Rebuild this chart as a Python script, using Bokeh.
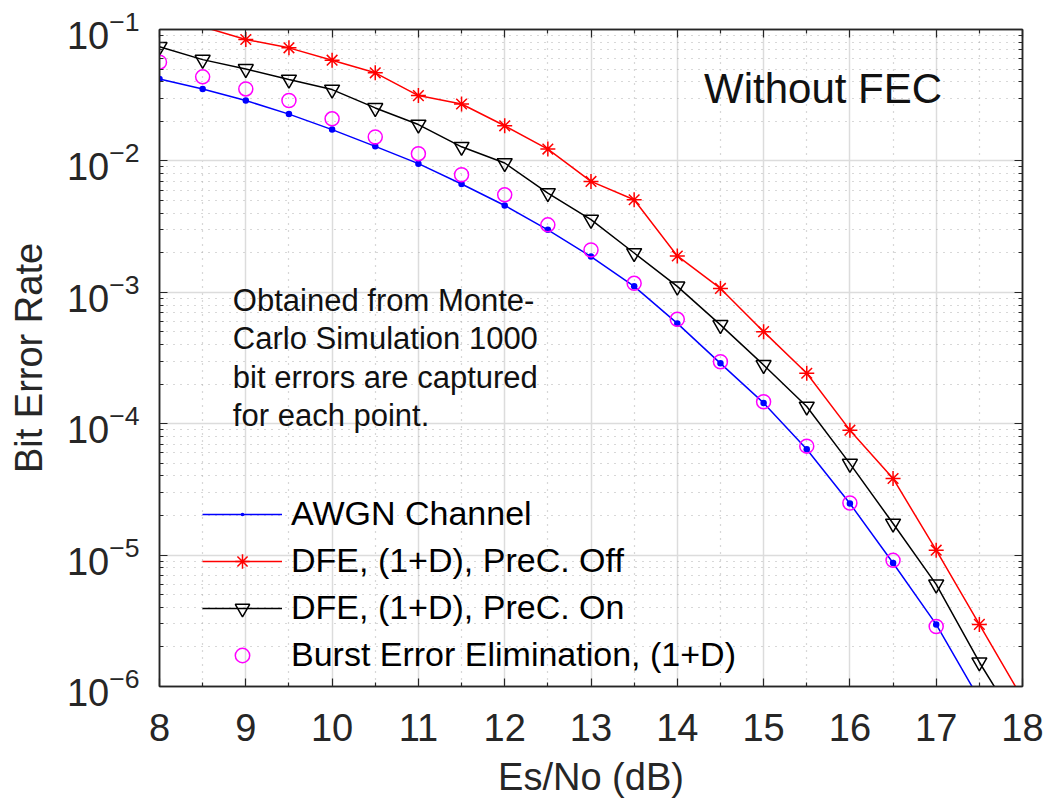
from bokeh.plotting import figure
from bokeh.models import (FixedTicker, LogAxis, LinearAxis, Legend, LegendItem,
                          ColumnDataSource)
from bokeh.core.properties import value
from bokeh.embed import file_html
from bokeh.resources import INLINE

# Es/No sweep (dB)
es_no = [8.0, 8.5, 9.0, 9.5, 10.0, 10.5, 11.0, 11.5, 12.0, 12.5, 13.0,
         13.5, 14.0, 14.5, 15.0, 15.5, 16.0, 16.5, 17.0, 17.5, 18.0]

# Bit error rate per scheme
ber_awgn = [0.042, 0.0353, 0.0288, 0.0227, 0.0173, 0.0129, 0.00953, 0.00667,
            0.00458, 0.00299, 0.00187, 0.00111, 5.8e-4, 2.88e-4, 1.44e-4,
            6.4e-5, 2.47e-5, 8.7e-6, 2.97e-6, 8.0e-7]
ber_dfe_off = [0.13, 0.105, 0.0839, 0.0725, 0.0584, 0.0468, 0.0314, 0.0271,
               0.0185, 0.0123, 0.00698, 0.00506, 0.00189, 0.00107, 5.02e-4,
               2.42e-4, 8.93e-5, 3.83e-5, 1.09e-5, 2.97e-6, 8.1e-7]
ber_dfe_on = [0.0738, 0.059, 0.0501, 0.0416, 0.0349, 0.0253, 0.0189, 0.0128,
              0.00964, 0.00569, 0.00357, 0.00199, 0.00111, 5.65e-4, 2.80e-4,
              1.35e-4, 4.97e-5, 1.74e-5, 5.98e-6, 1.53e-6, 4.5e-7]
ber_burst = [0.0564, 0.0436, 0.0353, 0.0288, 0.0209, 0.0152, 0.01135, 0.00785,
             0.00552, 0.00326, 0.00210, 0.00117, 6.23e-4, 2.96e-4, 1.47e-4,
             6.75e-5, 2.49e-5, 9.12e-6, 2.86e-6]

series_names = ["AWGN Channel", "DFE, (1+D), PreC. Off",
                "DFE, (1+D), PreC. On", "Burst Error Elimination, (1+D)"]

x_ticks = [8, 9, 10, 11, 12, 13, 14, 15, 16, 17, 18]
x_minor = [8.5, 9.5, 10.5, 11.5, 12.5, 13.5, 14.5, 15.5, 16.5, 17.5]
y_ticks = [1e-6, 1e-5, 1e-4, 1e-3, 1e-2, 1e-1]
y_minor = [k * d for d in y_ticks[:-1] for k in range(2, 10)]

note_lines = ["Obtained from Monte-", "Carlo Simulation 1000",
              "bit errors are captured", "for each point."]
note_x = [8.85] * 4
note_y = [8.67e-4, 4.42e-4, 2.25e-4, 1.15e-4]

Y_MIN, Y_MAX = 1e-6, 1e-1
FONT = "Liberation Sans"
AX = "#262626"

p = figure(width=1048, height=800, x_range=(8, 18), y_range=(Y_MIN, Y_MAX),
           y_axis_type="log", output_backend="svg", toolbar_location=None,
           min_border_left=159, min_border_right=26, min_border_top=29,
           min_border_bottom=114, background_fill_color="white",
           border_fill_color="white")
p.outline_line_color = AX
p.outline_line_width = 1.5

xticker = FixedTicker(ticks=x_ticks, minor_ticks=x_minor)
yticker = FixedTicker(ticks=y_ticks, minor_ticks=y_minor)


def style_axis(ax, show_labels):
    ax.axis_line_color = AX
    ax.axis_line_width = 1.5
    ax.major_tick_line_color = AX
    ax.minor_tick_line_color = AX
    ax.major_tick_line_width = 1.2
    ax.minor_tick_line_width = 1.2
    ax.major_tick_in = 8
    ax.major_tick_out = 0
    ax.minor_tick_in = 4
    ax.minor_tick_out = 0
    ax.major_label_text_font = FONT
    ax.axis_label_text_font = FONT
    ax.axis_label_text_color = AX
    ax.axis_label_text_font_style = "normal"
    if show_labels:
        ax.major_label_text_color = AX
        ax.major_label_text_font_size = "38px"
        ax.axis_label_text_font_size = "38px"
    else:
        # mirrored box axis: ticks only, labels kept tiny and unpainted
        ax.major_label_text_color = None
        ax.major_label_text_font_size = "1px"
        ax.major_label_standoff = 0


xa = p.xaxis[0]
xa.ticker = xticker
xa.axis_label = "Es/No (dB)"
style_axis(xa, True)
xa.major_label_standoff = 27
xa.axis_label_standoff = 12

ya = p.yaxis[0]
ya.ticker = yticker
ya.axis_label = "Bit Error Rate"
style_axis(ya, True)
ya.major_label_standoff = 20
ya.axis_label_standoff = 14

top_axis = LinearAxis(ticker=xticker)
style_axis(top_axis, False)
p.add_layout(top_axis, "above")
right_axis = LogAxis(ticker=yticker)
style_axis(right_axis, False)
p.add_layout(right_axis, "right")

for g in (p.xgrid[0], p.ygrid[0]):
    g.grid_line_color = "#dcdcdc"
    g.grid_line_width = 1.5
    g.minor_grid_line_color = "#b0b0b0"
    g.minor_grid_line_width = 1.2
    g.minor_grid_line_dash = "1 6"


def in_view(xs, ys):
    """Markers are only drawn for samples inside the axis limits."""
    pts = [(x, y) for x, y in zip(xs, ys) if Y_MIN <= y <= Y_MAX]
    return dict(x=[a for a, _ in pts], y=[b for _, b in pts])


src_awgn = ColumnDataSource(dict(x=es_no[:len(ber_awgn)], y=ber_awgn))
src_off = ColumnDataSource(dict(x=es_no[:len(ber_dfe_off)], y=ber_dfe_off))
src_on = ColumnDataSource(dict(x=es_no[:len(ber_dfe_on)], y=ber_dfe_on))

l_awgn = p.line("x", "y", source=src_awgn, line_color="#0000ff", line_width=1.5)
m_awgn = p.scatter("x", "y", source=ColumnDataSource(in_view(es_no, ber_awgn)),
                   marker="dot", size=26, line_color="#0000ff")

l_off = p.line("x", "y", source=src_off, line_color="#ff0000", line_width=1.5)
m_off = p.scatter("x", "y", source=ColumnDataSource(in_view(es_no, ber_dfe_off)),
                  marker="asterisk", size=15, line_color="#ff0000",
                  line_width=1.5)

l_on = p.line("x", "y", source=src_on, line_color="#000000", line_width=1.5)
m_on = p.scatter("x", "y", source=ColumnDataSource(in_view(es_no, ber_dfe_on)),
                 marker="inverted_triangle", size=15, fill_color=None,
                 line_color="#000000", line_width=1.5)

m_burst = p.scatter("x", "y", source=ColumnDataSource(in_view(es_no, ber_burst)),
                    marker="circle", size=14, fill_color=None,
                    line_color="#ff00ff", line_width=1.5)

legend = Legend(items=[
    LegendItem(label=series_names[0], renderers=[l_awgn, m_awgn]),
    LegendItem(label=series_names[1], renderers=[l_off, m_off]),
    LegendItem(label=series_names[2], renderers=[l_on, m_on]),
    LegendItem(label=series_names[3], renderers=[m_burst]),
], location=(43, 12))
legend.background_fill_alpha = 0
legend.border_line_color = None
legend.padding = 0
legend.margin = 0
legend.spacing = 8
legend.glyph_width = 80
legend.glyph_height = 36
legend.label_height = 36
legend.label_standoff = 9
legend.label_text_font = FONT
legend.label_text_font_size = "34px"
legend.label_text_color = "#000000"
p.add_layout(legend)

p.text(x=note_x, y=note_y, text=note_lines, text_font=value(FONT),
       text_font_size="31px", text_baseline="middle", text_align="left",
       text_color="#111111")
p.text(x=[14.31], y=[0.0357], text=["Without FEC"], text_font=value(FONT),
       text_font_size="42px", text_baseline="middle", text_align="left",
       text_color="#111111")

open("out.html", "w").write(file_html(p, INLINE))
